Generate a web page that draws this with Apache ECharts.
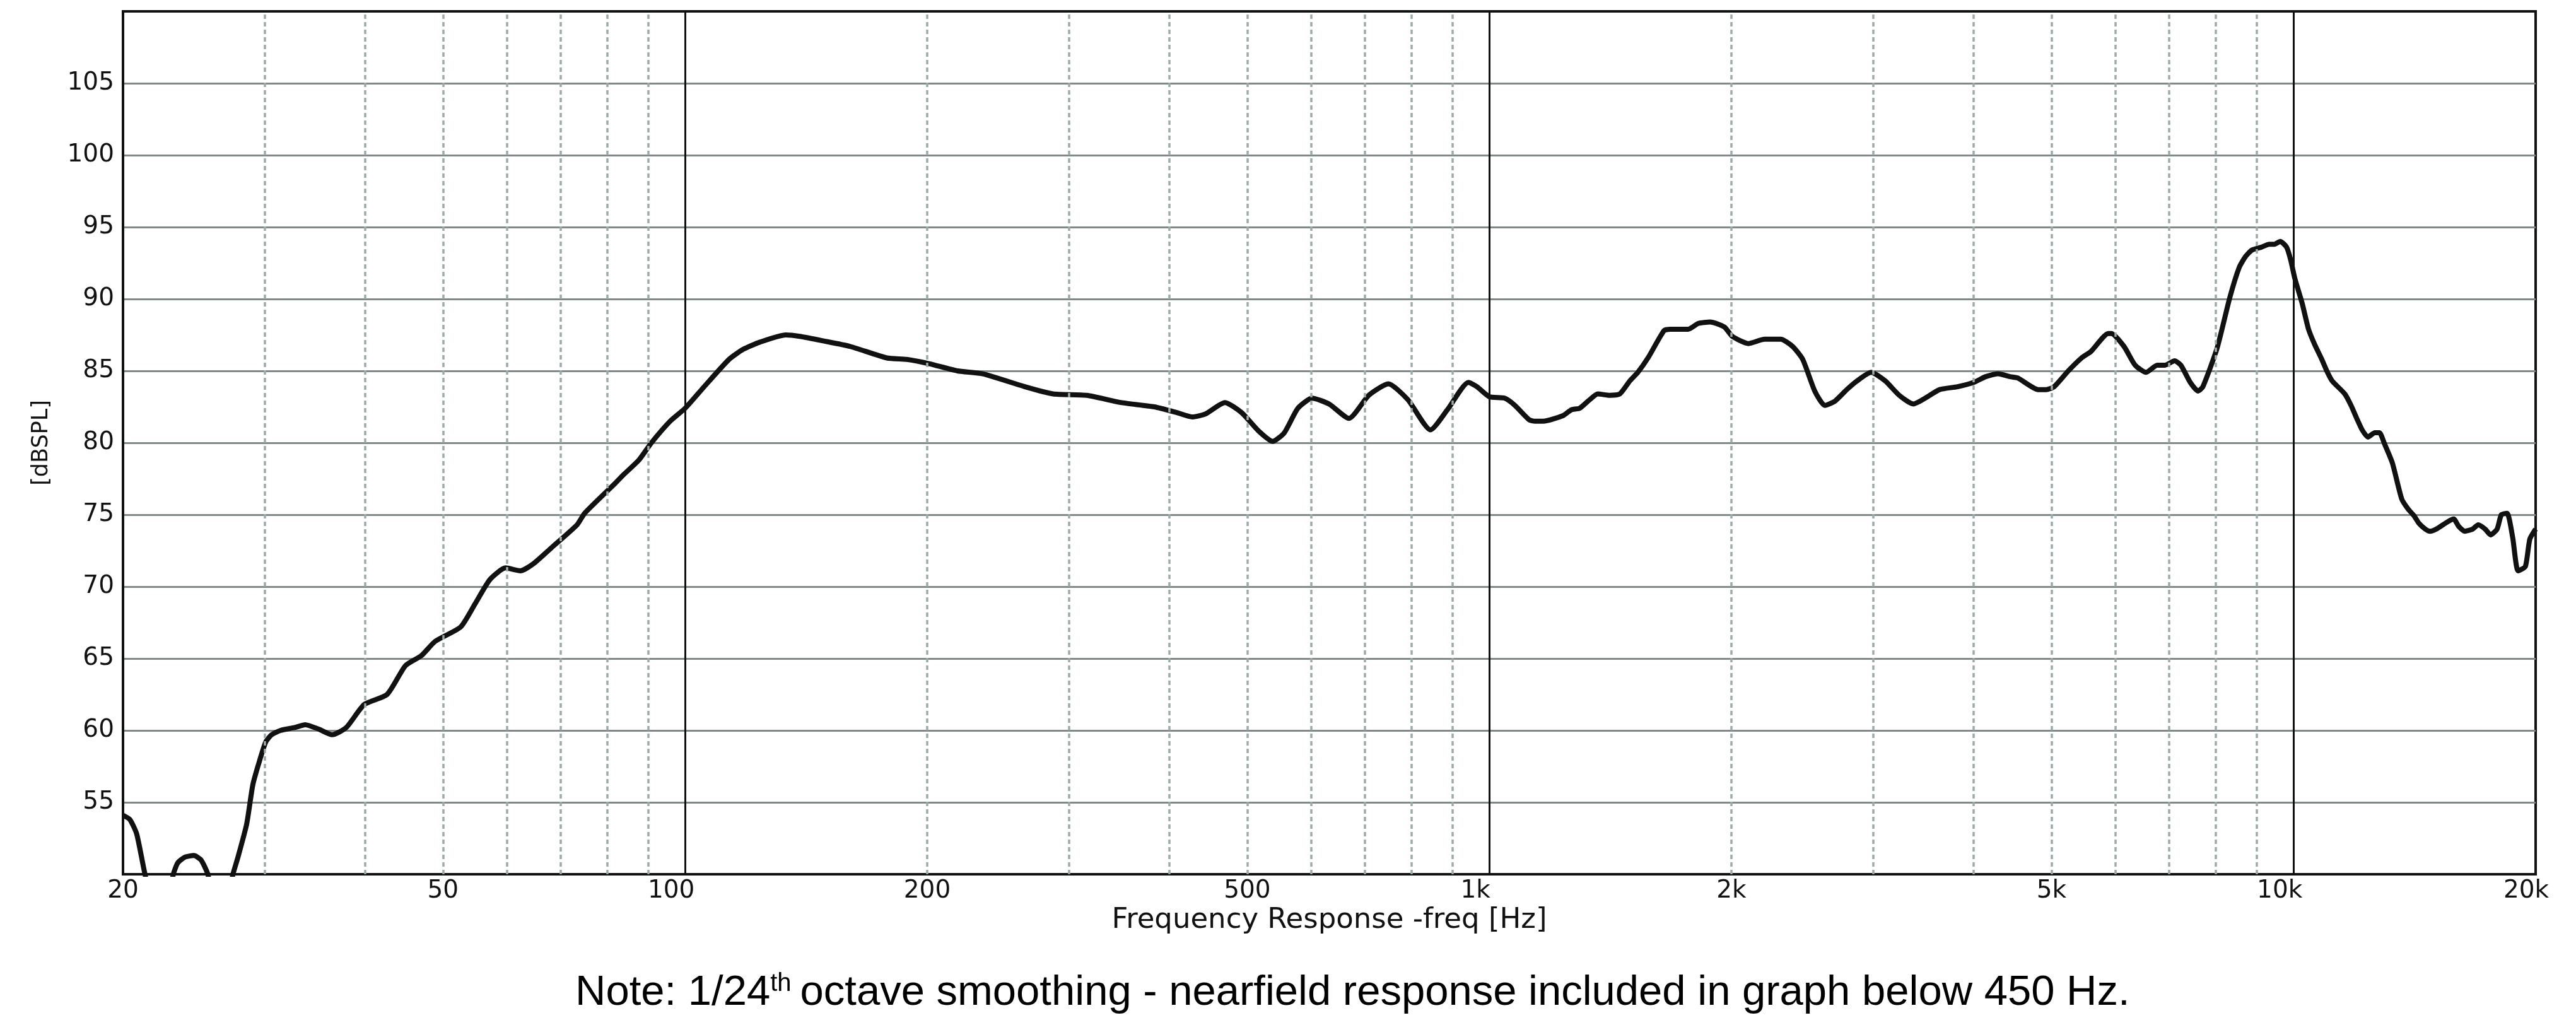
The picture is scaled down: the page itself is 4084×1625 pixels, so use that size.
<!doctype html>
<html>
<head>
<meta charset="utf-8">
<title>Frequency Response</title>
<style>
  html, body { margin: 0; padding: 0; background: #fff; }
  #main { width: 4084px; height: 1625px; }
</style>
</head>
<body>
<div id="main"></div>
<script src="https://cdn.jsdelivr.net/npm/echarts@6/dist/echarts.min.js"></script>
<script>
var freqs = [20, 20.4, 20.8, 21.3, 21.9, 22.6, 23.1, 23.4, 23.9, 24.5, 25.0, 25.5, 26.1, 26.8, 27.4, 27.8,
  28.5, 29.0, 29.5, 30.1, 30.6, 31.4, 32.7, 33.7, 35.0, 36.4, 37.9, 39.9, 42.6, 44.9, 47.0, 48.9,
  52.6, 54.8, 57.2, 59.8, 62.4, 64.8, 68.2, 73.4, 75.0, 81.9, 83.9, 87.6, 90.8, 95.8, 100,
  105.6, 113.4, 118.1, 123.9, 133.4, 138.8, 148.1, 160.4, 178.2, 188.6, 201.1, 218.1, 234.5, 264.6,
  286.8, 315.9, 348.1, 383.2, 408.8, 427, 443.4, 469, 492, 517, 538, 556, 578, 602, 632, 669, 708,
  749, 792, 845, 887, 942, 965, 1000, 1045, 1076, 1121, 1140, 1167, 1236, 1265, 1295, 1333, 1364,
  1412, 1453, 1495, 1530, 1575, 1649, 1677, 1767, 1819, 1882, 1960, 2005, 2100, 2199, 2303, 2383,
  2453, 2539, 2613, 2690, 2783, 2865, 2984, 3107, 3234, 3367, 3506, 3630, 3821, 4001, 4142, 4289,
  4441, 4543, 4812, 4925, 5038, 5247, 5450, 5599, 5884, 5937, 6155, 6353, 6557, 6768, 6922, 7113,
  7242, 7440, 7610, 7714, 8036, 8332, 8560, 8716, 8876, 9120, 9328, 9455, 9628, 9804, 9920, 10040,
  10250, 10438, 10630, 10823, 11020, 11170, 11580, 11790, 12005, 12170, 12370, 12620, 12790, 12970,
  13270, 13630, 13880, 14130, 14320, 14580, 14780, 15050, 15540, 15820, 16040, 16330, 16700, 16970,
  17310, 17580, 17910, 18130, 18430, 18730, 19020, 19420, 19670, 20000];
var spl = [54.1, 53.8, 52.8, 50.0, 47.5, 47.5, 50.0, 50.8, 51.2, 51.3, 51.0, 50.0, 47.5, 47.5, 50.0, 51.2,
  53.5, 56.2, 57.7, 59.2, 59.7, 60.0, 60.2, 60.4, 60.1, 59.7, 60.2, 61.8, 62.5, 64.5, 65.2, 66.2,
  67.2, 68.8, 70.5, 71.3, 71.1, 71.6, 72.7, 74.3, 75.1, 77.2, 77.8, 78.8, 80.0, 81.5, 82.4,
  83.9, 85.8, 86.5, 87.0, 87.5, 87.4, 87.1, 86.7, 85.9, 85.8, 85.5, 85.0, 84.8, 83.9,
  83.4, 83.3, 82.8, 82.5, 82.1, 81.8, 82.0, 82.8, 82.1, 80.8, 80.1, 80.7, 82.4, 83.1, 82.7, 81.7, 83.3,
  84.1, 83.0, 80.9, 82.3, 84.2, 83.9, 83.2, 83.1, 82.6, 81.6, 81.5, 81.5, 81.9, 82.3, 82.4, 83.0, 83.4,
  83.3, 83.4, 84.3, 84.9, 85.9, 87.8, 87.9, 87.9, 88.3, 88.4, 88.05, 87.4, 86.9, 87.2, 87.2, 86.7,
  85.8, 83.6, 82.6, 82.9, 83.7, 84.3, 84.9, 84.3, 83.3, 82.7, 83.2, 83.7, 83.9, 84.2, 84.6, 84.8,
  84.6, 84.5, 83.7, 83.7, 83.9, 85.0, 85.9, 86.35, 87.6, 87.6, 86.7, 85.4, 84.9, 85.4, 85.4, 85.7,
  85.4, 84.2, 83.6, 83.9, 86.6, 90.1, 92.2, 92.95, 93.4, 93.6, 93.8, 93.8, 94.0, 93.6, 92.7, 91.4,
  89.7, 87.9, 86.8, 85.9, 84.9, 84.3, 83.4, 82.6, 81.6, 80.9, 80.4, 80.7, 80.7, 79.95,
  78.6, 76.1, 75.4, 74.9, 74.4, 74.0, 73.85, 74.0, 74.5, 74.7, 74.2, 73.85, 74.0, 74.3,
  74.0, 73.6, 74.0, 75.0, 75.1, 73.4, 71.1, 71.4, 73.3, 74.0];

// axis labels and grid positions
var xLabels = [20, 50, 100, 200, 500, 1000, 2000, 5000, 10000, 20000];
var majorLines = [100, 1000, 10000];
var minorLines = [30, 40, 50, 60, 70, 80, 90, 200, 300, 400, 500, 600, 700, 800, 900,
  2000, 3000, 4000, 5000, 6000, 7000, 8000, 9000];

var noteText = 'Note: 1/24';
var noteSup = 'th';
var noteRest = 'octave smoothing - nearfield response included in graph below 450 Hz.';

var curve = [];
for (var i = 0; i < freqs.length; i++) {
  curve.push([freqs[i], spl[i]]);
}

function fmtFreq(v) {
  var s = v >= 1000 ? (v / 1000) + 'k' : String(v);
  // labels on the solid decade lines sit a bit to the left in the original
  if (v === 100 || v === 1000 || v === 10000) return '{m|' + s + '}';
  if (v === 20000) return '{e|' + s + '}';
  return s;
}

var tickFont = { fontFamily: 'DejaVu Sans', fontSize: 39, color: '#111' };

var myChart = echarts.init(document.getElementById('main'));

var option = {
  animation: false,
  backgroundColor: '#fff',
  title: {
    left: 912,
    top: 1540,
    padding: 0,
    text: '{a|' + noteText + '}{b|' + noteSup + '}{a|' + noteRest + '}',
    textStyle: {
      fontWeight: 'normal',
      rich: {
        a: { fontFamily: 'Liberation Sans', fontWeight: 'normal', fontSize: 67, color: '#000', lineHeight: 70 },
        b: { fontFamily: 'Liberation Sans', fontWeight: 'normal', fontSize: 40, color: '#000', verticalAlign: 'top', padding: [0, 14, 0, 0] }
      }
    }
  },
  grid: {
    left: 195,
    right: 64,
    top: 18,
    bottom: 239,
    show: true,
    borderColor: '#111',
    borderWidth: 4
  },
  xAxis: {
    type: 'log',
    logBase: 10,
    min: 20,
    max: 20000,
    name: 'Frequency Response -freq [Hz]',
    nameLocation: 'middle',
    nameGap: 46,
    nameTextStyle: { fontFamily: 'DejaVu Sans', fontSize: 45, color: '#111' },
    axisLine: { show: true, lineStyle: { color: '#111', width: 4 } },
    axisTick: { show: false },
    splitLine: { show: false },
    minorSplitLine: { show: false },
    axisLabel: {
      customValues: xLabels,
      margin: 7,
      fontFamily: tickFont.fontFamily,
      fontSize: tickFont.fontSize,
      color: tickFont.color,
      formatter: fmtFreq,
      rich: {
        m: { fontFamily: 'DejaVu Sans', fontSize: 39, color: '#111', padding: [0, 44, 0, 0] },
        e: { fontFamily: 'DejaVu Sans', fontSize: 39, color: '#111', padding: [0, 30, 0, 0] }
      }
    }
  },
  yAxis: {
    type: 'value',
    min: 50,
    max: 110,
    interval: 5,
    name: '[dBSPL]',
    nameLocation: 'middle',
    nameGap: 112,
    nameTextStyle: { fontFamily: 'DejaVu Sans', fontSize: 35, color: '#111' },
    axisLine: { show: true, lineStyle: { color: '#111', width: 4 } },
    axisTick: { show: false },
    axisLabel: {
      margin: 14,
      fontFamily: tickFont.fontFamily,
      fontSize: tickFont.fontSize,
      color: tickFont.color,
      formatter: function (v) { return (v === 50 || v === 110) ? '' : String(v); }
    },
    splitLine: {
      show: true,
      showMinLine: false,
      showMaxLine: false,
      lineStyle: { color: '#7c8a88', width: 3 }
    }
  },
  series: [
    {
      // vertical grid: dotted sub-decades and solid decade lines
      name: 'grid',
      type: 'line',
      data: [],
      z: 1,
      silent: true,
      markLine: {
        silent: true,
        symbol: ['none', 'none'],
        label: { show: false },
        emphasis: { disabled: true },
        animation: false,
        data: minorLines.map(function (v) {
          return { xAxis: v, lineStyle: { color: '#9aabab', width: 3.5, type: [7, 5] } };
        }).concat(majorLines.map(function (v) {
          return { xAxis: v, lineStyle: { color: '#111', width: 3, type: 'solid' } };
        }))
      }
    },
    {
      name: 'SPL',
      type: 'line',
      data: curve,
      z: 3,
      showSymbol: false,
      smooth: 0.2,
      clip: true,
      lineStyle: { color: '#111', width: 8 },
      itemStyle: { color: '#111' }
    }
  ]
};

myChart.setOption(option);
</script>
</body>
</html>
